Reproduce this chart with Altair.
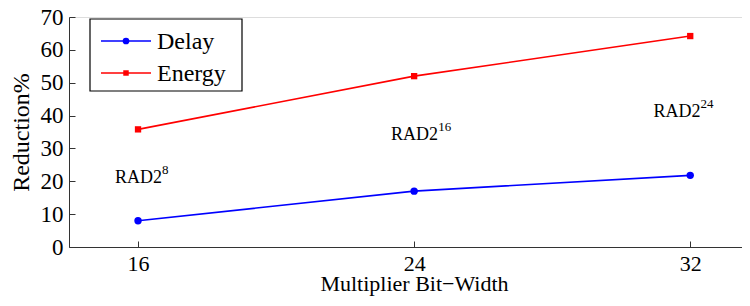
import altair as alt
import pandas as pd

# ---- data ----
bit_widths = [16, 24, 32]
series_names = ["Delay", "Energy"]
series_shapes = ["circle", "square"]
delay_values = [8.0, 17.0, 21.8]
energy_values = [35.8, 52.0, 64.2]
series_colors = ["#0000ff", "#ff0000"]

y_ticks = [0, 10, 20, 30, 40, 50, 60, 70]
x_ticks = [16, 24, 32]

ann_base = ["RAD2", "RAD2", "RAD2"]
ann_sup = ["8", "16", "24"]
ann_x = [16, 24, 31.6]
ann_y = [19.4, 32.7, 39.5]

FONT = "Liberation Serif"

rows = []
for name, vals in zip(series_names, [delay_values, energy_values]):
    for bw, v in zip(bit_widths, vals):
        rows.append({"bw": bw, "val": v, "series": name})
df = pd.DataFrame(rows)
ann = pd.DataFrame({"x": ann_x, "y": ann_y, "base": ann_base, "sup": ann_sup})
leg_df = pd.DataFrame({"series": series_names})

W, H = 673, 230
xscale = alt.Scale(domain=[14, 33.5], nice=False, zero=False)
yscale = alt.Scale(domain=[0, 70], nice=False)
cscale = alt.Scale(domain=series_names, range=series_colors)
shscale = alt.Scale(domain=series_names, range=series_shapes)

main_x_axis = alt.Axis(values=x_ticks, ticks=False, grid=False, labelFont=FONT, labelFontSize=22,
                       labelPadding=6, labelColor="black", domainColor="#333333",
                       title="Multiplier Bit\u2212Width", titleFont=FONT, titleFontSize=22,
                       titleFontWeight="normal", titleColor="black", titlePadding=-1, titleX=345)
main_y_axis = alt.Axis(values=y_ticks, ticks=False, grid=False, labelFont=FONT, labelFontSize=23,
                       labelPadding=6, labelColor="black", domainColor="#333333",
                       title="Reduction%", titleFont=FONT, titleFontSize=24,
                       titleFontWeight="normal", titleColor="black", titlePadding=7)

lines = alt.Chart(df).mark_line(strokeWidth=1.6).encode(
    x=alt.X("bw:Q", scale=xscale, axis=main_x_axis),
    y=alt.Y("val:Q", scale=yscale, axis=main_y_axis),
    color=alt.Color("series:N", scale=cscale, legend=None),
    detail="series:N",
)

# inside-pointing ticks via extra axes displaced onto the plot edges
tick_x_axis = alt.Axis(orient="top", offset=-H, values=x_ticks, labels=False, domain=False,
                       grid=False, tickSize=6, tickColor="#333333", title=None)
tick_y_axis = alt.Axis(orient="right", offset=-W, values=y_ticks, labels=False, domain=False,
                       grid=False, tickSize=6, tickColor="#333333", title=None)

circles = alt.Chart(df).transform_filter(alt.datum.series == "Delay").mark_point(
    shape="circle", filled=True, size=55, opacity=1
).encode(
    x=alt.X("bw:Q", scale=xscale, axis=tick_x_axis),
    y=alt.Y("val:Q", scale=yscale, axis=tick_y_axis),
    color=alt.Color("series:N", scale=cscale, legend=None),
)

squares = alt.Chart(df).transform_filter(alt.datum.series == "Energy").mark_point(
    shape="square", filled=True, size=40, opacity=1
).encode(
    x=alt.X("bw:Q", scale=xscale, axis=None),
    y=alt.Y("val:Q", scale=yscale, axis=None),
    color=alt.Color("series:N", scale=cscale, legend=None),
)

base_text = alt.Chart(ann).mark_text(align="right", baseline="alphabetic", font=FONT,
                                     fontSize=18, color="black", dx=24).encode(
    x=alt.X("x:Q", scale=xscale, axis=None),
    y=alt.Y("y:Q", scale=yscale, axis=None),
    text="base:N",
)
sup_text = alt.Chart(ann).mark_text(align="left", baseline="alphabetic", font=FONT,
                                    fontSize=13, color="black", dx=24, dy=-9).encode(
    x=alt.X("x:Q", scale=xscale, axis=None),
    y=alt.Y("y:Q", scale=yscale, axis=None),
    text="sup:N",
)

# ---- legend box (top-left, inside the plot) ----
leg_y = alt.Y("series:N", scale=alt.Scale(type="point", domain=series_names, range=[24, 56], padding=0),
              axis=None)
leg_box = alt.Chart(leg_df.head(1)).mark_rect(fill="white", stroke="black", strokeWidth=1.2).encode(
    x=alt.value(21), x2=alt.value(173), y=alt.value(2), y2=alt.value(74)
)
leg_lines = alt.Chart(leg_df).mark_rule(strokeWidth=1.6).encode(
    x=alt.value(32), x2=alt.value(82), y=leg_y,
    color=alt.Color("series:N", scale=cscale, legend=None),
)
leg_marks = alt.Chart(leg_df).mark_point(filled=True, opacity=1).encode(
    x=alt.value(57), y=leg_y,
    color=alt.Color("series:N", scale=cscale, legend=None),
    shape=alt.Shape("series:N", scale=shscale, legend=None),
    size=alt.Size("series:N", scale=alt.Scale(domain=series_names, range=[45, 30]), legend=None),
)
leg_text = alt.Chart(leg_df).mark_text(align="left", baseline="middle", font=FONT, fontSize=24,
                                       color="black", dy=1).encode(
    x=alt.value(88), y=leg_y, text="series:N",
)

chart = alt.layer(lines, circles, squares, base_text, sup_text,
                  leg_box, leg_lines, leg_marks, leg_text).resolve_axis(
    x="independent", y="independent"
).resolve_scale(y="independent").properties(
    width=W, height=H,
    autosize=alt.AutoSizeParams(type="none"),
    padding={"left": 61, "top": 9, "right": 0, "bottom": 51},
).configure_view(stroke=None).configure(background="white")

chart.save("out.html", embed_options={"renderer": "svg", "actions": False})
